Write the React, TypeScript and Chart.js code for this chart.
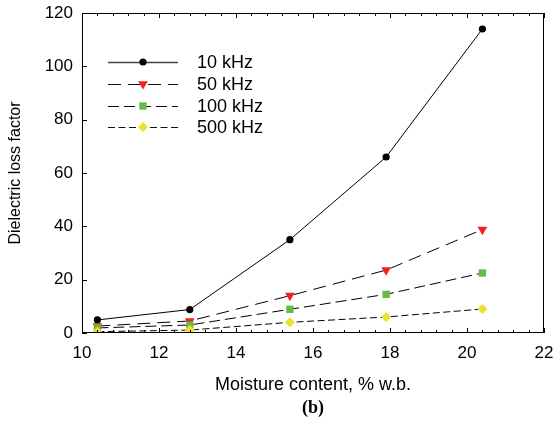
import React, { useEffect, useRef } from "react";
import { Chart, registerables } from "chart.js";
import { drawPoint } from "chart.js/helpers";

Chart.register(...registerables);

const moisture = [10.4, 12.8, 15.4, 17.9, 20.4];
const loss10k = [4.9, 8.8, 35, 66, 114];
const loss50k = [2.6, 4.5, 14, 23.6, 38.8];
const loss100k = [1.9, 3.0, 8.9, 14.5, 22.5];
const loss500k = [0.5, 1.1, 4.0, 6.0, 9.0];
const seriesLabels = ["10 kHz", "50 kHz", "100 kHz", "500 kHz"];
const xTitle = "Moisture content, % w.b.";
const yTitle = "Dielectric loss factor";
const caption = "(b)";

const FONT = "'Liberation Sans', Arial, Helvetica, sans-serif";

const framePlugin = {
  id: "framePlugin",
  afterDraw(chart: any) {
    const { ctx, chartArea } = chart;
    const { left, right, top, bottom } = chartArea;
    const xs = chart.scales.x;
    const ys = chart.scales.y;
    ctx.save();
    ctx.strokeStyle = "#000";
    ctx.lineWidth = 1;
    ctx.setLineDash([]);
    ctx.strokeRect(left + 0.5, top + 0.5, right - left - 1, bottom - top - 1);

    // x ticks (major + minor), inward, bottom and top
    const xmin = xs.min, xmax = xs.max;
    const nMinor = Math.round((xmax - xmin) / 0.4);
    ctx.beginPath();
    for (let i = 0; i <= nMinor; i++) {
      const v = xmin + i * 0.4;
      const px = Math.round(xs.getPixelForValue(v)) + 0.5;
      const major = i % 5 === 0;
      const len = major ? 5 : 3;
      ctx.moveTo(px, bottom);
      ctx.lineTo(px, bottom - len);
      ctx.moveTo(px, top);
      ctx.lineTo(px, top + len);
    }
    // y ticks (left, inward)
    ys.ticks.forEach((t: any) => {
      const py = Math.round(ys.getPixelForValue(t.value)) + 0.5;
      ctx.moveTo(left, py);
      ctx.lineTo(left + 5, py);
    });
    ctx.stroke();

    // legend
    const rows = [62, 84, 106, 127];
    const x0 = left + 26;
    const x1 = left + 96;
    const xm = left + 61;
    chart.data.datasets.forEach((ds: any, i: number) => {
      const y = rows[i];
      ctx.save();
      ctx.strokeStyle = i === 0 ? "#444" : "#111";
      ctx.lineWidth = i === 0 ? 1.6 : 1.2;
      ctx.setLineDash(ds.borderDash || []);
      ctx.beginPath();
      ctx.moveTo(x0, y + 0.5);
      ctx.lineTo(x1, y + 0.5);
      ctx.stroke();
      ctx.setLineDash([]);
      ctx.fillStyle = ds.pointBackgroundColor;
      ctx.strokeStyle = ds.pointBorderColor;
      drawPoint(
        ctx,
        {
          pointStyle: ds.pointStyle,
          radius: ds.pointRadius,
          rotation: ds.pointRotation || 0,
          borderWidth: ds.pointBorderWidth,
        } as any,
        xm,
        y
      );
      ctx.restore();
      ctx.fillStyle = "#000";
      ctx.font = `18px ${FONT}`;
      ctx.textAlign = "left";
      ctx.textBaseline = "middle";
      ctx.fillText(ds.label, left + 115, y + 1);
    });

    // caption
    ctx.fillStyle = "#000";
    ctx.font = `bold 18px 'Liberation Serif', 'Times New Roman', serif`;
    ctx.textAlign = "center";
    ctx.textBaseline = "middle";
    ctx.fillText(caption, (left + right) / 2, 408);
    ctx.restore();
  },
};

export default function App() {
  const ref = useRef<HTMLCanvasElement | null>(null);
  useEffect(() => {
    document.body.style.margin = "0";
    const canvas = ref.current!;
    const mk = (
      label: string,
      data: number[],
      color: string,
      style: string,
      radius: number,
      dash: number[],
      order: number,
      rotation = 0
    ) => ({
      label,
      data: data.map((v, i) => ({ x: moisture[i], y: v })),
      borderColor: "#000",
      borderWidth: 1,
      borderDash: dash,
      pointStyle: style,
      pointRadius: radius,
      pointRotation: rotation,
      pointBackgroundColor: color,
      pointBorderColor: color,
      pointBorderWidth: 0,
      pointHoverRadius: radius,
      tension: 0,
      fill: false,
      order,
    });
    const chart = new Chart(canvas, {
      type: "line",
      data: {
        datasets: [
          mk(seriesLabels[0], loss10k, "#000000", "circle", 3.6, [], 3),
          mk(seriesLabels[1], loss50k, "#ee2222", "triangle", 5.6, [13, 7], 2, 180),
          mk(seriesLabels[2], loss100k, "#66bb44", "rect", 5.2, [11, 5], 1),
          mk(seriesLabels[3], loss500k, "#eee033", "rectRot", 5, [7, 3.5], 0),
        ] as any,
      },
      options: {
        responsive: false,
        animation: false,
        layout: { padding: { left: 0, right: 12, top: 13, bottom: 0 } },
        plugins: {
          legend: { display: false },
          tooltip: { enabled: false },
          title: { display: false },
        },
        scales: {
          x: {
            type: "linear",
            min: 10,
            max: 22,
            ticks: {
              stepSize: 2,
              color: "#000",
              font: { family: FONT, size: 17 },
              padding: 10,
              maxRotation: 0,
              callback: (v: any) => String(v),
            },
            grid: { display: false, drawTicks: false },
            border: { display: false },
            title: {
              display: true,
              text: xTitle,
              color: "#000",
              font: { family: FONT, size: 18 },
              padding: { top: 0, bottom: 27 },
            },
            afterFit: (s: any) => {
              s.height = 90;
              s.paddingLeft = 0;
              s.paddingRight = 0;
            },
          },
          y: {
            type: "linear",
            min: 0,
            max: 120,
            ticks: {
              stepSize: 20,
              color: "#000",
              font: { family: FONT, size: 17 },
              padding: 9,
            },
            grid: { display: false, drawTicks: false },
            border: { display: false },
            title: {
              display: true,
              text: yTitle,
              color: "#000",
              font: { family: FONT, size: 16 },
              padding: { top: 6, bottom: 0 },
            },
            afterFit: (s: any) => {
              s.width = 82;
              s.paddingTop = 0;
              s.paddingBottom = 0;
            },
          },
        },
      } as any,
      plugins: [framePlugin],
    });
    return () => chart.destroy();
  }, []);
  return (
    <canvas
      ref={ref}
      width={556}
      height={423}
      style={{ display: "block", position: "fixed", left: 0, top: 0 }}
    />
  );
}
